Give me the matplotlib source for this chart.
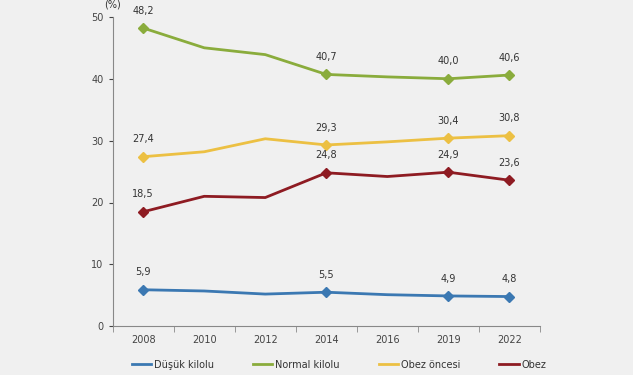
import matplotlib.pyplot as plt
import numpy as np

# Vücut kitle indeksi dağılımı (%)
yillar = ['2008', '2010', '2012', '2014', '2016', '2019', '2022']
dusuk = [5.9, 5.7, 5.2, 5.5, 5.1, 4.9, 4.8]
normal = [48.2, 45.0, 43.9, 40.7, 40.3, 40.0, 40.6]
obez_oncesi = [27.4, 28.2, 30.3, 29.3, 29.8, 30.4, 30.8]
obez = [18.5, 21.0, 20.8, 24.8, 24.2, 24.9, 23.6]
etiketler = ['Düşük kilolu', 'Normal kilolu', 'Obez öncesi', 'Obez']
isaretli = [0, 3, 5, 6]  # marker + value label only on these years

renkler = ['#3b78b2', '#8aac3c', '#ecc043', '#8e1b22']
seriler = [dusuk, normal, obez_oncesi, obez]

fig = plt.figure(figsize=(6.33, 3.75), dpi=100, facecolor='#f0f0f0')
ax = fig.add_axes([0.178, 0.13, 0.675, 0.825])
ax.set_facecolor('#f0f0f0')

x = np.arange(len(yillar))
for seri, renk, ad in zip(seriler, renkler, etiketler):
    seri = np.array(seri)
    ax.plot(x, seri, color=renk, linewidth=2, label=ad)
    ax.plot(x[isaretli], seri[isaretli], 'D', color=renk, markersize=5)
    for i in isaretli:
        ax.text(x[i], seri[i] + 2.0, f'{seri[i]:.1f}'.replace('.', ','),
                ha='center', va='bottom', fontsize=7, color='#333333')

ax.set_xlim(-0.5, 6.5)
ax.set_ylim(0, 50)
ax.set_yticks(np.arange(0, 51, 10))
ax.set_xticks(x)
ax.set_xticklabels(yillar)
ax.set_xticks(np.arange(-0.5, 7, 1), minor=True)
ax.tick_params(axis='x', which='major', length=0, labelsize=7, colors='#444444', pad=6)
ax.tick_params(axis='x', which='minor', length=4, color='#888888')
ax.tick_params(axis='y', length=3, labelsize=7, colors='#444444', direction='out')

for s in ['top', 'right']:
    ax.spines[s].set_visible(False)
ax.spines['left'].set_color('#888888')
ax.spines['bottom'].set_color('#888888')

ax.text(0, 1.025, '(%)', transform=ax.transAxes, ha='center', va='bottom',
        fontsize=7, color='#333333')

ax.legend(loc='upper center', bbox_to_anchor=(0.53, -0.08), ncol=4, frameon=False,
          fontsize=7, handlelength=2, columnspacing=4, handletextpad=0.3,
          labelcolor='#333333')

plt.savefig('out.png', dpi=100, facecolor=fig.get_facecolor())
